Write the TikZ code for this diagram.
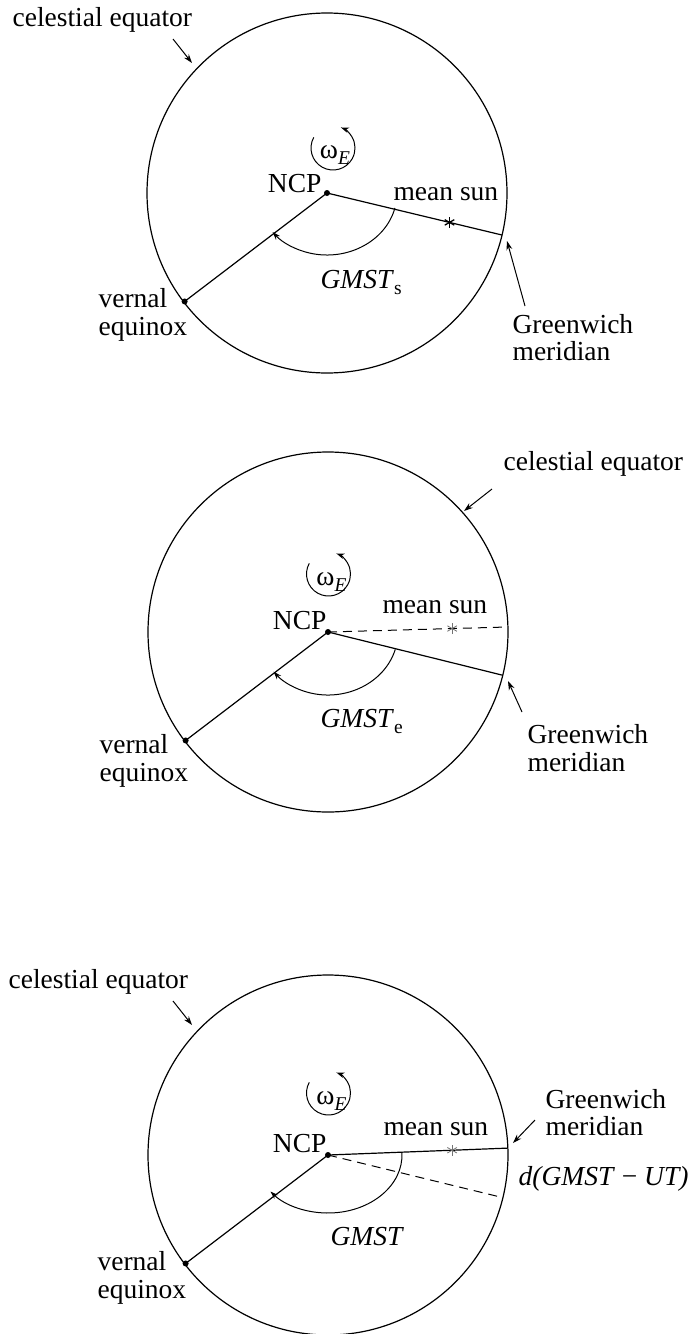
\documentclass[tikz,border=0pt]{standalone}
\usepackage{fontspec}
\setmainfont{Liberation Serif}
\usetikzlibrary{arrows.meta,calc}
\newcommand\mysub[1]{\raisebox{-6pt}{\fontsize{19.5}{19.5}\selectfont #1}}
\begin{document}
\begin{tikzpicture}[x=1pt,y=-1pt, line width=1.2pt,
  lbl/.style={inner sep=0pt, font=\fontsize{27.5}{31}\selectfont},
  pt/.style={circle, fill=black, inner sep=0pt, minimum size=6pt},
  ptr/.style={-{Stealth[length=9pt,width=6pt]}, line width=1pt},
  ang/.style={-{Stealth[length=8pt,width=5.5pt]}, line width=1pt},
  eq/.style={line width=1.2pt},
  star/.style={line width=1.3pt},
  gstar/.style={line width=0.8pt, black!55},
  dsh/.style={line width=1pt, dash pattern=on 9pt off 6pt},
  ]
\useasboundingbox (0,0) rectangle (690,1334);

% ================= Diagram 1 =================
\coordinate (c1) at (327,193);
\draw[eq] (c1) circle[radius=180];
\coordinate (ve1) at ($(c1)+(142.7:179)$);
\coordinate (gw1) at ($(c1)+(13.5:180)$);
\coordinate (ms1) at ($(c1)!0.70!(gw1)$);
\draw (c1) -- (ve1);
\draw (c1) -- (gw1);
\node[pt] (ncpdot1) at (c1) {};
\node[pt] (vedot1) at (ve1) {};
\foreach \a in {90,150,210} \draw[star] ($(ms1)+(\a:5.5)$) -- ($(ms1)+(\a+180:5.5)$);
\node[lbl, anchor=base west] (msl1) at (393,200) {mean sun};
\node[lbl, anchor=base east] (ncp1) at (322,192) {NCP};
\coordinate (w1) at (333,148);
\node[lbl, anchor=base] (om1) at ($(w1)+(2,10)$) {ω\mysub{\textit{E}}};
\draw[ang] ($(w1)+(-151:22)$) arc[start angle=-151, end angle=-429, radius=22];
\draw[ang] ($(c1)+(14:70 and 62)$) arc[start angle=14, end angle=141, x radius=70, y radius=62];
\node[lbl, anchor=base west] (gm1) at (320,288) {\textit{GMST}\mysub{s}};
\node[lbl, anchor=base west] (ce1) at (12,26) {celestial equator};
\coordinate (ce1a) at (173,39);
\coordinate (ce1b) at (192,63);
\draw[ptr] (ce1a) -- (ce1b);
\node[lbl, anchor=base west] (v1) at (98,307) {vernal};
\node[lbl, anchor=base west] (e1) at (98,335) {equinox};
\node[lbl, anchor=base west] (g1) at (512,333) {Greenwich};
\node[lbl, anchor=base west] (m1) at (512,360) {meridian};
\coordinate (g1a) at (525,306);
\coordinate (g1b) at (507,241);
\draw[ptr] (g1a) -- (g1b);

% ================= Diagram 2 =================
\coordinate (c2) at (328,632);
\draw[eq] (c2) circle[radius=180];
\coordinate (ve2) at ($(c2)+(142.7:179)$);
\coordinate (gw2) at ($(c2)+(13.9:180)$);
\coordinate (sd2) at ($(c2)+(-1.6:180)$);
\coordinate (ms2) at ($(c2)!0.69!(sd2)$);
\draw (c2) -- (ve2);
\draw (c2) -- (gw2);
\draw[dsh] (c2) -- (sd2);
\node[pt] (ncpdot2) at (c2) {};
\node[pt] (vedot2) at (ve2) {};
\foreach \a in {90,150,210} \draw[gstar] ($(ms2)+(\a:5.5)$) -- ($(ms2)+(\a+180:5.5)$);
\node[lbl, anchor=base west] (msl2) at (382,613) {mean sun};
\node[lbl, anchor=base east] (ncp2) at (327,629) {NCP};
\coordinate (w2) at (328.5,574);
\node[lbl, anchor=base] (om2) at ($(w2)+(3,11)$) {ω\mysub{\textit{E}}};
\draw[ang] ($(w2)+(-151:22)$) arc[start angle=-151, end angle=-429, radius=22];
\draw[ang] ($(c2)+(16:70 and 63)$) arc[start angle=16, end angle=141, x radius=70, y radius=63];
\node[lbl, anchor=base west] (gm2) at (320,727) {\textit{GMST}\mysub{e}};
\node[lbl, anchor=base west] (ce2) at (503,470) {celestial equator};
\coordinate (ce2a) at (492,489);
\coordinate (ce2b) at (464,511);
\draw[ptr] (ce2a) -- (ce2b);
\node[lbl, anchor=base west] (v2) at (99,753) {vernal};
\node[lbl, anchor=base west] (e2) at (99,781) {equinox};
\node[lbl, anchor=base west] (g2) at (527,743) {Greenwich};
\node[lbl, anchor=base west] (m2) at (527,771) {meridian};
\coordinate (g2a) at (522,712);
\coordinate (g2b) at (508,681);
\draw[ptr] (g2a) -- (g2b);

% ================= Diagram 3 =================
\coordinate (c3) at (328,1155);
\draw[eq] (c3) circle[radius=180];
\coordinate (ve3) at ($(c3)+(142.7:179)$);
\coordinate (gw3) at ($(c3)+(-2.2:180)$);
\coordinate (sd3) at ($(c3)+(13.7:180)$);
\coordinate (ms3) at ($(c3)!0.69!(gw3)$);
\draw (c3) -- (ve3);
\draw (c3) -- (gw3);
\draw[dsh] (c3) -- (sd3);
\node[pt] (ncpdot3) at (c3) {};
\node[pt] (vedot3) at (ve3) {};
\foreach \a in {90,150,210} \draw[gstar] ($(ms3)+(\a:5.5)$) -- ($(ms3)+(\a+180:5.5)$);
\node[lbl, anchor=base west] (msl3) at (383,1135) {mean sun};
\node[lbl, anchor=base east] (ncp3) at (327,1152) {NCP};
\coordinate (w3) at (328.5,1093);
\node[lbl, anchor=base] (om3) at ($(w3)+(3,11)$) {ω\mysub{\textit{E}}};
\draw[ang] ($(w3)+(-151:22)$) arc[start angle=-151, end angle=-429, radius=22];
\draw[ang] ($(c3)+(-2:74 and 58)$) arc[start angle=-2, end angle=141, x radius=74, y radius=58];
\node[lbl, anchor=base west] (gm3) at (330,1245) {\textit{GMST}};
\node[lbl, anchor=base west] (ce3) at (8,988) {celestial equator};
\coordinate (ce3a) at (173,1001);
\coordinate (ce3b) at (192,1025);
\draw[ptr] (ce3a) -- (ce3b);
\node[lbl, anchor=base west] (v3) at (97,1270) {vernal};
\node[lbl, anchor=base west] (e3) at (97,1298) {equinox};
\node[lbl, anchor=base west] (g3) at (545,1108) {Greenwich};
\node[lbl, anchor=base west] (m3) at (545,1135) {meridian};
\coordinate (g3a) at (535,1120);
\coordinate (g3b) at (513,1143);
\draw[ptr] (g3a) -- (g3b);
\node[lbl, anchor=base west] (d3) at (518,1185) {\textit{d(GMST} − \textit{UT)}};
\end{tikzpicture}
\end{document}
